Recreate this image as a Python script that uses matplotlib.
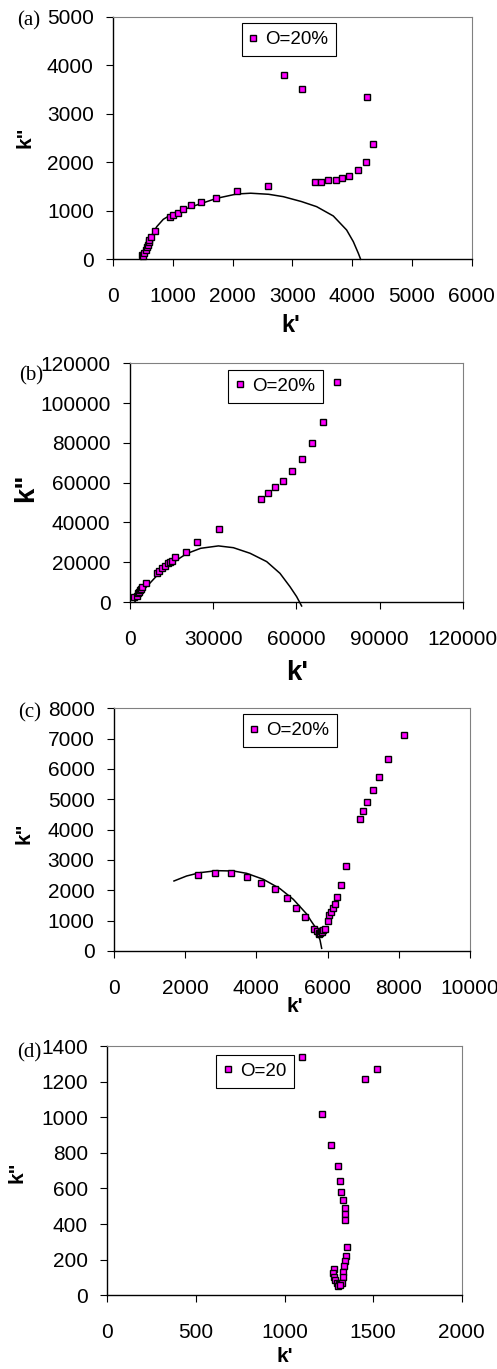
import numpy as np
import matplotlib.pyplot as plt

plt.rcParams['font.family'] = ['Liberation Sans', 'DejaVu Sans']


## panel (a) : measured points and fitted arc
a_kr = [480, 500, 520, 545, 560, 575, 590, 605, 625, 690, 950, 1005, 1090, 1175,
        1300, 1475, 1715, 2070, 2585, 2850, 3155, 3385, 3480, 3600, 3720, 3835,
        3950, 4100, 4225, 4250, 4340]
a_ki = [80, 60, 130, 190, 250, 300, 350, 400, 460, 590, 880, 920, 960, 1030,
        1115, 1190, 1270, 1400, 1520, 3790, 3505, 1600, 1600, 1635, 1635, 1685,
        1720, 1845, 2000, 3345, 2370]
a_fit_kr = [459, 531, 615, 727, 837, 1005, 1397, 1731, 2066, 2300, 2600, 2846,
            3150, 3404, 3683, 3906, 4018, 4102, 4141]
a_fit_ki = [0, 227, 433, 672, 824, 948, 1119, 1257, 1346, 1362, 1340, 1291,
            1190, 1085, 893, 604, 364, 124, 0]

## panel (b)
b_kr = [1600, 2500, 3000, 3300, 3600, 4000, 4200, 5800, 9700, 10600, 11700,
        12600, 13800, 14400, 15000, 16200, 20100, 24300, 32100, 47300, 49700,
        52200, 55300, 58400, 61900, 65500, 69700, 74800]
b_ki = [2400, 3000, 4400, 5200, 6000, 6700, 7700, 9400, 14600, 15800, 17200,
        18300, 19500, 20300, 20800, 22400, 25300, 30200, 36900, 51800, 55000,
        58000, 60800, 65900, 71700, 79800, 90700, 110400]
b_fit_kr = [1800, 4000, 6000, 9600, 14400, 20400, 25500, 31900, 37300, 43300,
            49300, 54100, 57700, 60100, 61900]
b_fit_ki = [200, 4500, 7700, 13100, 18800, 24300, 27000, 28200, 27300, 24500,
            20300, 14400, 7700, 2700, -2000]

## panel (c)
c_kr = [2350, 2840, 3290, 3740, 4140, 4530, 4870, 5110, 5370, 5620, 5710, 5750,
        5770, 5790, 5815, 5830, 5860, 5925, 6005, 6050, 6100, 6160, 6220, 6260,
        6365, 6517, 6900, 7005, 7107, 7266, 7453, 7706, 8155]
c_ki = [2495, 2560, 2560, 2430, 2245, 2055, 1750, 1420, 1110, 725, 670, 560,
        605, 590, 660, 620, 690, 715, 995, 1185, 1300, 1410, 1565, 1795,
        2190, 2815, 4340, 4605, 4910, 5310, 5750, 6320, 7130]
c_fit_kr = [1685, 2041, 2416, 2884, 3352, 3727, 4195, 4663, 5037, 5412, 5530,
            5646, 5787, 5833]
c_fit_ki = [2308, 2473, 2582, 2648, 2637, 2560, 2363, 2055, 1703, 1220, 1000,
            802, 363, 88]

## panel (d)
d_kr = [1101, 1210, 1261, 1300, 1311, 1321, 1332, 1343, 1343, 1343, 1355, 1347,
        1342, 1338, 1332, 1329, 1280, 1276, 1280, 1285, 1295, 1309, 1322, 1300,
        1315, 1454, 1522]
d_ki = [1336, 1020, 846, 728, 642, 578, 533, 488, 457, 423, 270, 221,
        194, 165, 133, 105, 146, 124, 101, 86, 71, 63, 67, 55,
        58, 1217, 1269]


W, H = 497, 1369
fig = plt.figure(figsize=(W / 100, H / 100), dpi=100)


def fx(x):
    return x / W


def fy(y):
    return 1 - y / H


def panel(box, kr, ki, fit_kr, fit_ki, xmax, xstep, ymax, ystep, leg_text,
          leg_xy, tag, tag_xy, xlab_xy, ylab_xy, xlab_size, ylab_size):
    l, t, r, b = box
    ax = fig.add_axes([fx(l), fy(b), (r - l) / W, (b - t) / H])
    if fit_kr is not None:
        ax.plot(fit_kr, fit_ki, color='black', lw=1.1, clip_on=False, zorder=2)
    ax.plot(kr, ki, ls='none', marker='s', ms=4.0, mfc='#ff00ff', mec='black',
            mew=1.0, label=leg_text, zorder=3, clip_on=False)
    ax.set_xlim(0, xmax)
    ax.set_ylim(0, ymax)
    ax.set_xticks(np.arange(0, xmax + xstep / 2, xstep))
    ax.set_yticks(np.arange(0, ymax + ystep / 2, ystep))
    ax.tick_params(axis='x', direction='out', length=5, width=0.8, pad=15,
                   labelsize=15, top=False)
    ax.tick_params(axis='y', direction='out', length=5, width=0.8, pad=9,
                   labelsize=15, right=False)
    for s in ['left', 'bottom']:
        ax.spines[s].set_color('black')
        ax.spines[s].set_linewidth(1.0)
    for s in ['top', 'right']:
        ax.spines[s].set_color('#808080')
        ax.spines[s].set_linewidth(0.8)
    ax.set_xlabel("k'", fontsize=xlab_size, fontweight='bold', va='center')
    ax.xaxis.set_label_coords(fx(xlab_xy[0]), fy(xlab_xy[1]), transform=fig.transFigure)
    ax.set_ylabel('k"', fontsize=ylab_size, fontweight='bold', va='center')
    ax.yaxis.set_label_coords(fx(ylab_xy[0]), fy(ylab_xy[1]), transform=fig.transFigure)
    leg = ax.legend(loc='upper left', bbox_to_anchor=(fx(leg_xy[0]), fy(leg_xy[1])),
                    bbox_transform=fig.transFigure, borderaxespad=0, fontsize=13.5,
                    frameon=True, fancybox=False, framealpha=1, edgecolor='black',
                    handlelength=0.4, handletextpad=0.45, borderpad=0.42, numpoints=1)
    leg.get_frame().set_linewidth(0.8)
    fig.text(fx(tag_xy[0]), fy(tag_xy[1]), tag, family=['Liberation Serif'],
             fontsize=15, ha='center', va='center')
    return ax


panel((113.3, 16.7, 471.7, 259.3), a_kr, a_ki, a_fit_kr, a_fit_ki,
      6000, 1000, 5000, 1000, 'O=20%', (241.7, 23.3), '(a)', (29, 21),
      (291, 325), (25, 137), 17, 15)

panel((130, 363.3, 462.7, 602), b_kr, b_ki, b_fit_kr, b_fit_ki,
      120000, 30000, 120000, 20000, 'O=20%', (228.3, 370), '(b)', (31, 376),
      (297, 673), (26, 488), 20, 20)

panel((114, 708.3, 470, 951), c_kr, c_ki, c_fit_kr, c_fit_ki,
      10000, 2000, 8000, 1000, 'O=20%', (242.7, 714.3), '(c)', (30, 713),
      (295, 1007), (24, 833), 15, 15)

panel((107.3, 1046, 461.7, 1295.3), d_kr, d_ki, None, None,
      2000, 500, 1400, 200, 'O=20', (216, 1054.7), '(d)', (29, 1053),
      (285, 1357), (17, 1172), 15, 15)

plt.savefig('out.png', dpi=100)
